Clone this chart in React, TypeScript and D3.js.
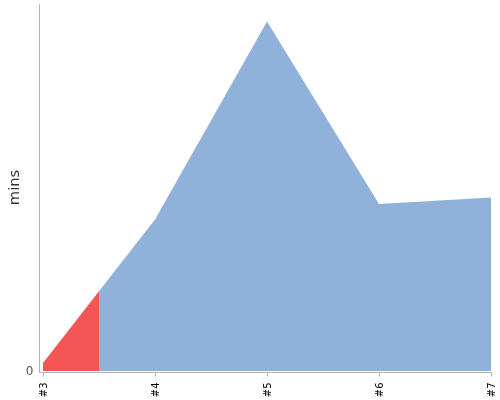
import React from "react";
import * as d3 from "d3";

const categories = ["#3", "#4", "#5", "#6", "#7"];
const values = [0.87, 16.5, 38.1, 18.2, 18.9];
const yTicks = [0];
const yMax = 40;
const highlightEnd = 0.5; // red segment covers the first half interval
const yLabel = "mins";

const W = 500;
const H = 400;
const margin = { left: 43, right: 9, top: 4, bottom: 29 };

export default function App() {
  const x = d3
    .scaleLinear()
    .domain([0, categories.length - 1])
    .range([margin.left, W - margin.right]);
  const y = d3.scaleLinear().domain([0, yMax]).range([H - margin.bottom, margin.top]);

  const area = d3
    .area<number>()
    .x((_, i) => x(i))
    .y0(y(0))
    .y1((d) => y(d));
  const path = area(values) || "";
  const xSplit = x(highlightEnd);
  const baseY = y(0);

  return (
    <svg
      width={W}
      height={H}
      style={{ position: "fixed", left: 0, top: 0, fontFamily: "DejaVu Sans, sans-serif" }}
    >
      <defs>
        <clipPath id="redClip">
          <rect x={0} y={0} width={xSplit} height={H} />
        </clipPath>
        <clipPath id="blueClip">
          <rect x={xSplit} y={0} width={W - xSplit} height={H} />
        </clipPath>
      </defs>
      <path d={path} fill="#90b2da" clipPath="url(#blueClip)" />
      <path d={path} fill="#f45655" clipPath="url(#redClip)" />
      {/* y axis */}
      <line x1={39.5} x2={39.5} y1={margin.top} y2={baseY + 1.5} stroke="#b3b3b3" strokeWidth={1} />
      {yTicks.map((t) => (
        <text key={t} x={33.5} y={y(t) + 4} textAnchor="end" fontSize={12} fill="#555">
          {t}
        </text>
      ))}
      <text
        transform={`translate(18.5,${(margin.top + baseY) / 2}) rotate(-90)`}
        textAnchor="middle"
        fontSize={14.7}
        fill="#333"
      >
        {yLabel}
      </text>
      {/* x axis */}
      <line x1={39} x2={x(categories.length - 1) + 0.5} y1={baseY + 1.5} y2={baseY + 1.5} stroke="#b3b3b3" />
      {categories.map((c, i) => (
        <g key={c} transform={`translate(${Math.round(x(i)) + 0.5},${baseY + 1.5})`}>
          <line y1={0} y2={4} stroke="#b3b3b3" />
          <text
            transform="translate(3.5,10) rotate(-90)"
            textAnchor="end"
            fontSize={10}
            fill="#000"
          >
            {c}
          </text>
        </g>
      ))}
    </svg>
  );
}
